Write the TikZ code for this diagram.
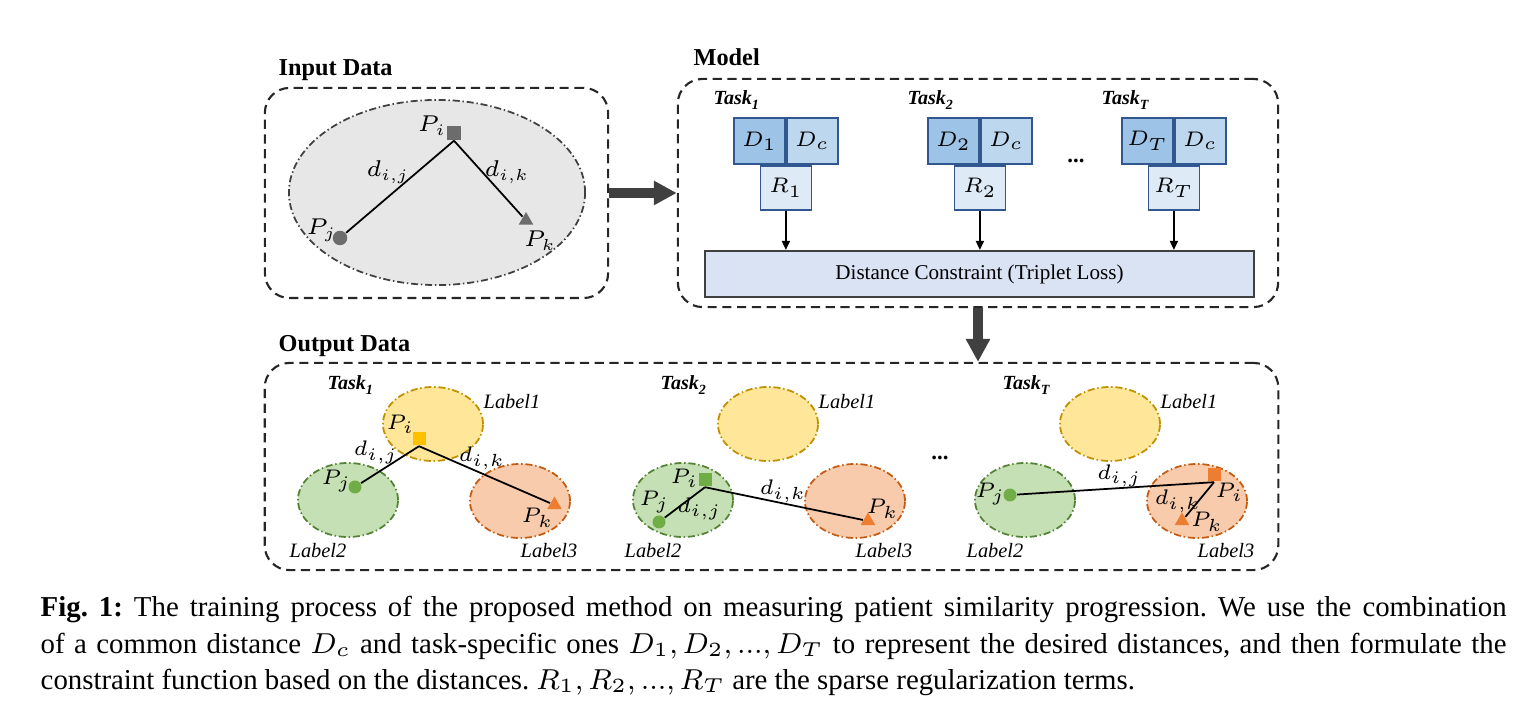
\documentclass[tikz,border=0pt]{standalone}
\usepackage{fix-cm}
\usepackage{fontspec}
\setmainfont{Liberation Serif}
\usepackage{xcolor}
\usepackage{amsmath}
\usetikzlibrary{shapes.geometric, arrows.meta, positioning, calc}
\definecolor{mydark}{RGB}{64,64,64}
\definecolor{myblue}{RGB}{49,87,145}
\definecolor{blueA}{RGB}{157,195,230}
\definecolor{blueB}{RGB}{189,215,238}
\definecolor{blueC}{RGB}{222,235,247}
\definecolor{myloss}{RGB}{218,227,243}
\definecolor{mygray}{RGB}{231,231,231}
\definecolor{mymark}{RGB}{108,108,108}
\definecolor{myyellow}{RGB}{255,192,0}
\definecolor{myyellowedge}{RGB}{191,144,0}
\definecolor{hdryellow}{RGB}{255,230,153}
\definecolor{mygreen}{RGB}{112,173,71}
\definecolor{mygreenedge}{RGB}{84,130,53}
\definecolor{hdrgreen}{RGB}{197,224,180}
\definecolor{myorange}{RGB}{237,125,49}
\definecolor{myorangeedge}{RGB}{197,90,17}
\definecolor{hdrorange}{RGB}{248,203,173}
\tikzset{
  dashframe/.style={rectangle, draw=black!85, line width=0.6pt,
    dash pattern=on 2.6pt off 1.6pt, rounded corners=7pt, inner sep=0pt},
  title/.style={anchor=base west, inner sep=0pt, font=\fontsize{6.9}{8}\selectfont\bfseries},
  tasklbl/.style={anchor=base west, inner sep=0pt, font=\fontsize{5.7}{7}\selectfont\bfseries\itshape},
  dbox/.style={rectangle, draw=myblue, fill=blueA, line width=0.5pt,
    minimum width=0.51cm, minimum height=0.46cm, inner sep=0pt,
    font=\fontsize{6}{7}\selectfont},
  cbox/.style={dbox, fill=blueB},
  rbox/.style={dbox, fill=blueC, minimum height=0.44cm},
  lossbox/.style={rectangle, draw=mydark, fill=myloss, line width=0.6pt,
    minimum width=5.49cm, minimum height=0.46cm, font=\fontsize{6}{7}\selectfont},
  inball/.style={ellipse, draw=mydark, fill=mygray, line width=0.5pt,
    dash pattern=on 2pt off 0.8pt on 0.4pt off 0.8pt,
    minimum width=2.96cm, minimum height=1.85cm, inner sep=0pt},
  grpell/.style={ellipse, line width=0.5pt,
    dash pattern=on 2pt off 0.8pt on 0.4pt off 0.8pt,
    minimum width=1.0cm, minimum height=0.74cm, inner sep=0pt},
  ylwell/.style={grpell, draw=myyellowedge, fill=hdryellow},
  grnell/.style={grpell, draw=mygreenedge, fill=hdrgreen},
  orgell/.style={grpell, draw=myorangeedge, fill=hdrorange},
  sqmark/.style={rectangle, minimum size=0.13cm, inner sep=0pt},
  dotmark/.style={circle, minimum size=0.13cm, inner sep=0pt},
  trimark/.style={regular polygon, regular polygon sides=3,
    minimum size=0.17cm, inner sep=0pt},
  inlbl/.style={inner sep=0pt, font=\fontsize{6.5}{7}\selectfont},
  outlbl/.style={inner sep=0pt, font=\fontsize{6}{7}\selectfont},
  grplbl/.style={inner sep=0pt, font=\fontsize{5.8}{7}\selectfont\itshape},
  arrow/.style={-{Triangle[length=0.09cm, width=0.08cm]}, line width=0.5pt, black},
  bigarrow/.style={-{Triangle[length=0.23cm, width=0.23cm]}, line width=0.1cm, mydark},
  line/.style={line width=0.5pt, black}
}

\begin{document}
\begin{tikzpicture}[x=0.01cm, y=-0.01cm]
  \useasboundingbox (0,0) rectangle (1533,716);

  % frames and titles
  \node[dashframe, minimum width=3.43cm, minimum height=2.10cm] (inbox) at (436.5,193) {};
  \node[dashframe, minimum width=6.00cm, minimum height=2.28cm] (modelbox) at (978,193) {};
  \node[dashframe, minimum width=10.13cm, minimum height=2.07cm] (outbox) at (771.5,466.5) {};
  \node[title] (intitle) at (278,76) {Input Data};
  \node[title] (modeltitle) at (693,66) {Model};
  \node[title] (outtitle) at (278,352) {Output Data};

  \draw[bigarrow] (inbox.east) -- (modelbox.west);
  \draw[bigarrow] (modelbox.south) -- (outbox.north -| modelbox.south);

  % input data
  \node[inball] (ball) at (437,192.5) {};
  \node[sqmark, fill=mymark, minimum size=0.14cm] (pi) at (454,133) {};
  \node[dotmark, fill=mymark, minimum size=0.145cm] (pj) at (340,238) {};
  \node[trimark, fill=mymark] (pk) at (526,220.5) {};
  \draw[line] (pi.south) -- (pj);
  \draw[line] (pi.south) -- (pk);
  \node[inlbl] (pilbl) at (432,126) {$P_i$};
  \node[inlbl] (pjlbl) at (321.5,230) {$P_j$};
  \node[inlbl] (pklbl) at (540,241) {$P_k$};
  \node[inlbl] (dijlbl) at (388,172) {$d_{i,j}$};
  \node[inlbl] (diklbl) at (507,172) {$d_{i,k}$};

  % model
  \node[lossbox] (loss) at (979.5,274) {Distance Constraint (Triplet Loss)};
  \foreach \k/\x/\s in {1/734/1, 2/928/2, 3/1122/T}{
    \node[dbox] (d\k) at (\x+25.5,141) {$D_{\s}$};
    \node[cbox, right=0pt of d\k] (c\k) {$D_c$};
    \node[rbox, below=0pt of d\k.south east] (r\k) {$R_{\s}$};
    \node[tasklbl] (t\k) at (\x-21,105) {Task\textsubscript{\s}};
    \draw[arrow] (r\k) -- (r\k |- loss.north);
  }
  \node[font=\fontsize{6.5}{7}\selectfont\bfseries] (mdots) at (1076,161) {...};

  % output data
  \foreach \n/\ox in {1/0, 2/335, 3/677}{
    \node[ylwell] (yel\n) at (433+\ox,424) {};
    \node[grnell] (grn\n) at (348+\ox,500) {};
    \node[orgell] (org\n) at (520+\ox,501) {};
    \node[grplbl] (lone\n) at (512+\ox,402) {Label1};
    \node[grplbl] (ltwo\n) at (318+\ox,551) {Label2};
    \node[grplbl] (lthree\n) at (549+\ox,551) {Label3};
  }
  \node[tasklbl] (ot1) at (327,390) {Task\textsubscript{1}};
  \node[tasklbl] (ot2) at (660,390) {Task\textsubscript{2}};
  \node[tasklbl] (ot3) at (1002,390) {Task\textsubscript{T}};
  \node[font=\fontsize{6.5}{7}\selectfont\bfseries] (odots) at (940,458) {...};

  % task 1
  \node[sqmark, fill=myyellow] (pia) at (419,439) {};
  \node[dotmark, fill=mygreen] (pja) at (355,487) {};
  \node[trimark, fill=myorange] (pka) at (554.5,505) {};
  \draw[line] (pia.south) -- (pja);
  \draw[line] (pia.south) -- (pka);
  \node[outlbl] at (400.5,424.5) {$P_i$};
  \node[outlbl] at (336.5,481) {$P_j$};
  \node[outlbl] at (537.5,517.5) {$P_k$};
  \node[outlbl] at (376,452.5) {$d_{i,j}$};
  \node[outlbl] at (482,458.5) {$d_{i,k}$};

  % task 2
  \node[sqmark, fill=mygreen] (pib) at (705,480) {};
  \node[dotmark, fill=mygreen] (pjb) at (659,522) {};
  \node[trimark, fill=myorange] (pkb) at (868,521) {};
  \draw[line] (pib.south) -- (pjb);
  \draw[line] (pib.south) -- (pkb);
  \node[outlbl] at (684.5,478.5) {$P_i$};
  \node[outlbl] at (654.5,502) {$P_j$};
  \node[outlbl] at (882.5,509) {$P_k$};
  \node[outlbl] at (699.5,509) {$d_{i,j}$};
  \node[outlbl] at (783,491.5) {$d_{i,k}$};

  % task T
  \node[sqmark, fill=myorange] (pic) at (1214,475) {};
  \node[dotmark, fill=mygreen] (pjc) at (1010,495) {};
  \node[trimark, fill=myorange] (pkc) at (1182,521) {};
  \draw[line] (pic.south) -- (pjc);
  \draw[line] (pic.south) -- (pkc);
  \node[outlbl] at (1229.5,492.5) {$P_i$};
  \node[outlbl] at (990.5,494) {$P_j$};
  \node[outlbl] at (1207,521.5) {$P_k$};
  \node[outlbl] at (1119.5,476) {$d_{i,j}$};
  \node[outlbl] at (1178,501) {$d_{i,k}$};

  % caption
  \node[anchor=base west, inner sep=0pt, text width=14.65cm, align=justify,
    font=\fontsize{8.2}{10.25}\selectfont\frenchspacing] (caption) at (40,617)
    {\textbf{Fig. 1:} The training process of the proposed method on measuring patient similarity progression. We use the combination\linebreak
     of a common distance $D_c$ and task-specific ones $D_1,D_2,...,D_T$ to represent the desired distances, and then formulate the\linebreak
     constraint function based on the distances. $R_1,R_2,...,R_T$ are the sparse regularization terms.};
\end{tikzpicture}
\end{document}
